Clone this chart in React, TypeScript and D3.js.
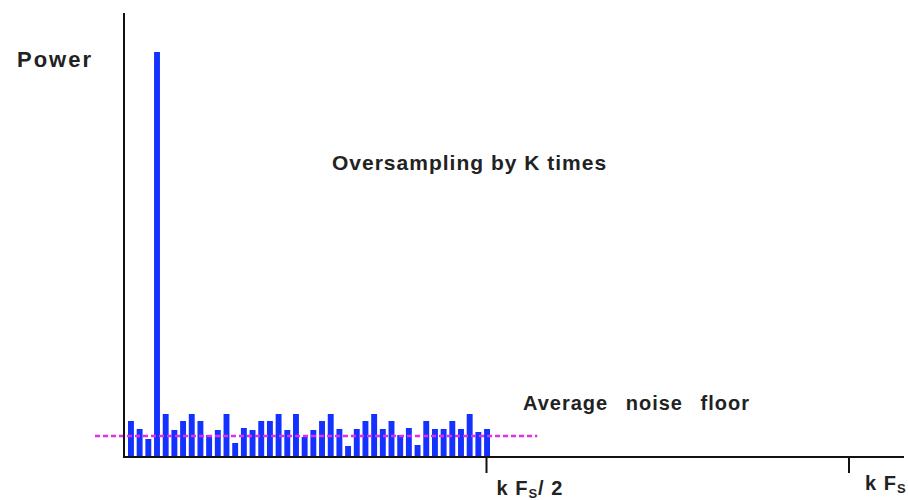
import React from "react";
import * as d3 from "d3";

const W = 908;
const H = 500;

// Power of each frequency bin (arbitrary units), bin index 0..41 spanning 0 .. kFs/2
const binPower: number[] = [
  36, 28, 18, 405, 43, 27, 36, 43, 36, 22,
  27, 43, 14, 29, 27, 36, 36, 43, 27, 43,
  20, 27, 36, 43, 28, 11, 28, 36, 43, 28,
  36, 22, 29, 12, 36, 28, 28, 36, 28, 43,
  25, 28,
];
const bins = binPower.map((_, i) => i);
const noiseFloor = 21;
const noiseFloorSpan: [number, number] = [-0.04, 0.57]; // in units of kFs
const freqTicks = [0.5, 1];

const margin = { left: 124, right: 59, top: 13, bottom: 43 };

export default function App() {
  const x = d3.scaleLinear().domain([0, 1]).range([margin.left, W - margin.right]);
  const xb = d3
    .scaleBand<number>()
    .domain(bins)
    .range([128, 490])
    .paddingInner(0.32)
    .paddingOuter(0);
  const y = d3.scaleLinear().domain([0, 444]).range([H - margin.bottom, margin.top]);
  const y0 = y(0);
  const font = "'Liberation Sans', Arial, sans-serif";

  return (
    <svg width={W} height={H} style={{ position: "absolute", left: 0, top: 0, background: "#fff" }}>
      {/* bars */}
      {binPower.map((p, i) => (
        <rect
          key={i}
          x={xb(i)}
          y={y(p)}
          width={xb.bandwidth()}
          height={y0 - y(p)}
          fill="#1432ff"
        />
      ))}
      {/* noise floor */}
      <line
        x1={x(noiseFloorSpan[0])}
        x2={x(noiseFloorSpan[1])}
        y1={y(noiseFloor)}
        y2={y(noiseFloor)}
        stroke="#e22ee8"
        strokeWidth={2.5}
        strokeDasharray="5 3"
      />
      {/* axes */}
      <line x1={margin.left} x2={margin.left} y1={margin.top} y2={y0 + 1} stroke="#111" strokeWidth={2} />
      <line x1={margin.left} x2={904} y1={y0} y2={y0} stroke="#111" strokeWidth={2} />
      {freqTicks.map((t) => (
        <line key={t} x1={x(t)} x2={x(t)} y1={y0} y2={y0 + 16} stroke="#111" strokeWidth={2} />
      ))}
      {/* tick labels */}
      <text x={x(0.5) + 10} y={495} fontFamily={font} fontWeight="bold" fontSize={20} fill="#222" letterSpacing={1}>
        k F<tspan fontSize={13} dy={3}>S</tspan>
        <tspan dy={-3}>/ 2</tspan>
      </text>
      <text x={x(1) + 16} y={490} fontFamily={font} fontWeight="bold" fontSize={20} fill="#222" letterSpacing={1}>
        k F<tspan fontSize={13} dy={3}>S</tspan>
      </text>
      {/* labels */}
      <text x={17} y={67} fontFamily={font} fontWeight="bold" fontSize={22} fill="#222" letterSpacing={2}>
        Power
      </text>
      <text x={332} y={170} fontFamily={font} fontWeight="bold" fontSize={21} fill="#222" letterSpacing={1}>
        Oversampling by K times
      </text>
      <text x={523} y={410} fontFamily={font} fontWeight="bold" fontSize={20} fill="#222" letterSpacing={1} style={{ wordSpacing: "11px" }}>
        Average noise floor
      </text>
    </svg>
  );
}
